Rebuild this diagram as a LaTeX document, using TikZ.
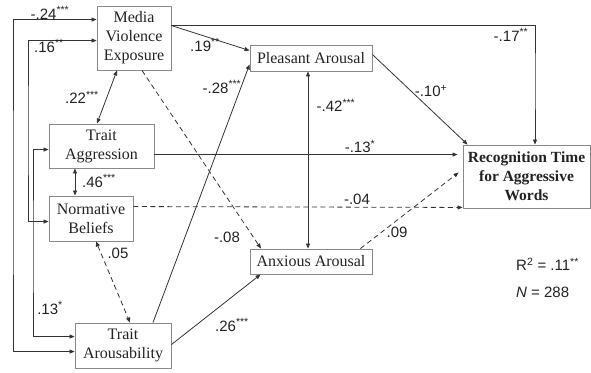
\documentclass[tikz,border=0pt]{standalone}
\usepackage{fontspec}
\setmainfont{Liberation Serif}
\newfontfamily\labfont{Liberation Sans}
\usetikzlibrary{arrows.meta,calc}
\definecolor{ln}{HTML}{333333}
\definecolor{bx}{HTML}{8A8A8A}
\definecolor{tx}{HTML}{222222}
\tikzset{
  box/.style={draw=bx, line width=0.9pt, rectangle, inner sep=0pt, align=center, text=tx,
    font=\fontsize{16}{19}\selectfont},
  conn/.style={draw=ln, line width=0.8pt, -{Triangle[length=5pt,width=4pt]}},
  dconn/.style={draw=ln, line width=0.8pt, {Triangle[length=5pt,width=4pt]}-{Triangle[length=5pt,width=4pt]}},
  dsh/.style={dash pattern=on 5pt off 3.5pt},
  lbl/.style={font=\labfont\fontsize{15}{17}\selectfont, text=tx, inner sep=0pt}
}
\begin{document}
\begin{tikzpicture}[x=1pt,y=-1pt]
\useasboundingbox (0,0) rectangle (591,372);
% boxes
\node[box, minimum width=74pt, minimum height=64pt] (MVE) at (134,38) {Media\\Violence\\Exposure};
\node[box, minimum width=122pt, minimum height=26pt] (PA) at (311,58) {Pleasant Arousal};
\node[box, minimum width=105pt, minimum height=44pt] (TAG) at (101.5,146) {Trait\\Aggression};
\node[box, minimum width=84pt, minimum height=45pt] (NB) at (91,218.5) {Normative\\Beliefs};
\node[box, minimum width=96pt, minimum height=45pt] (TAR) at (123,345.5) {Trait\\Arousability};
\node[box, minimum width=122pt, minimum height=25pt] (AA) at (311,261.5) {Anxious Arousal};
\node[box, minimum width=127pt, minimum height=63pt, font=\bfseries\fontsize{15.5}{19}\selectfont] (RT) at (526.5,176.5) {Recognition Time\\for Aggressive\\Words};
% corner coordinates
\coordinate (L1) at (13,200);
\coordinate (L2) at (28,130);
\coordinate (L3) at (33,250);
\coordinate (K1) at (535,80);
% left correlations
\draw[dconn] ([yshift=-14pt]MVE.north west) -| (L1) |- ([yshift=-29pt]TAR.north west);
\draw[dconn] ([yshift=-35pt]MVE.north west) -| (L2) |- ([yshift=-26pt]NB.north west);
\draw[dconn] ([yshift=-26pt]TAG.north west) -| (L3) |- ([yshift=-14pt]TAR.north west);
\node[lbl] (l24) at (50,13) {-.24\textsuperscript{***}};
\node[lbl] (l16) at (49,46) {.16\textsuperscript{**}};
\node[lbl] (l13) at (50,308) {.13\textsuperscript{*}};
% box-to-box correlations
\draw[dconn] ([xshift=-17pt]MVE.south) -- ([xshift=-4.5pt]TAG.north);
\node[lbl] (l22) at (82,97) {.22\textsuperscript{***}};
\draw[dconn] ([xshift=-26.5pt]TAG.south) -- ([xshift=-16pt]NB.north);
\node[lbl] (l46) at (99,181) {.46\textsuperscript{***}};
\draw[dconn, dsh] ([xshift=5pt]NB.south) -- ([xshift=7pt]TAR.north);
\node[lbl] (l05) at (118,253) {.05};
\draw[dconn] ([xshift=-3pt]PA.south) -- ([xshift=-3pt]AA.north);
\node[lbl] (l42) at (336,105) {-.42\textsuperscript{***}};
% paths
\draw[conn] ([yshift=-20pt]MVE.north east) -- ([yshift=-6pt]PA.north west);
\node[lbl] (l19) at (205,45) {.19\textsuperscript{**}};
\draw[conn] ([yshift=-20pt]MVE.north east) -| (K1) -- (RT.north -| K1);
\node[lbl] (l17) at (511,35) {-.17\textsuperscript{**}};
\draw[conn, dsh] ([xshift=8pt]MVE.south) -- ([xshift=-50pt]AA.north);
\node[lbl] (l08) at (227,237) {-.08};
\draw[conn] ([xshift=30pt]TAR.north) -- ([yshift=7pt]PA.south west);
\node[lbl] (l28) at (222,87) {-.28\textsuperscript{***}};
\draw[conn] ([yshift=-22pt]TAR.north east) -- ([xshift=11pt]AA.south west);
\node[lbl] (l26) at (232,325) {.26\textsuperscript{***}};
\draw[conn] ([yshift=-10pt]PA.north east) -- ([xshift=5pt]RT.north west);
\node[lbl] (l10) at (431,91) {-.10\textsuperscript{+}};
\draw[conn] ([yshift=-31pt]TAG.north east) -- ([xshift=-5pt,yshift=-10pt]RT.north west);
\node[lbl] (l13b) at (360,146.5) {-.13\textsuperscript{*}};
\draw[conn, dsh] ([yshift=-11pt]NB.north east) -- ([yshift=1pt]RT.south west);
\node[lbl] (l04) at (357,199) {-.04};
\draw[conn, dsh] ([xshift=-12pt]AA.north east) -- ([xshift=-4pt,yshift=-28pt]RT.north west);
\node[lbl] (l09) at (397,232) {.09};
% stats
\node[lbl, anchor=west] (r2) at (516,264) {R\textsuperscript{2} = .11\textsuperscript{**}};
\node[lbl, anchor=west] (nn) at (516,292) {\textit{N} = 288};
\end{tikzpicture}
\end{document}
